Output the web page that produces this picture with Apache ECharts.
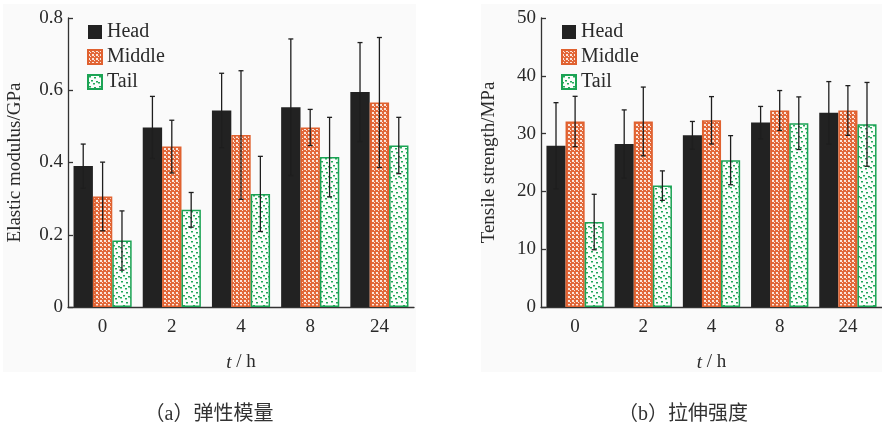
<!DOCTYPE html>
<html>
<head>
<meta charset="utf-8">
<script src="https://cdn.jsdelivr.net/npm/echarts@6/dist/echarts.min.js"></script>
<style>
html,body{margin:0;padding:0;background:#fff;}
#c{width:882px;height:430px;}
</style>
</head>
<body>
<div id="c"></div>
<script>
// ---- data ----
const categories = ['0', '2', '4', '8', '24'];
const seriesNames = ['Head', 'Middle', 'Tail'];

const modulusHead = [0.390, 0.497, 0.544, 0.553, 0.595];
const modulusMiddle = [0.306, 0.444, 0.476, 0.497, 0.566];
const modulusTail = [0.184, 0.269, 0.313, 0.415, 0.447];
const modulusHeadErr = [0.061, 0.086, 0.103, 0.189, 0.137];
const modulusMiddleErr = [0.095, 0.073, 0.178, 0.050, 0.180];
const modulusTailErr = [0.082, 0.048, 0.104, 0.110, 0.078];

const strengthHead = [27.9, 28.2, 29.7, 31.9, 33.6];
const strengthMiddle = [32.1, 32.1, 32.3, 34.0, 34.0];
const strengthTail = [14.7, 21.0, 25.4, 31.8, 31.6];
const strengthHeadErr = [7.45, 5.9, 2.4, 2.8, 5.4];
const strengthMiddleErr = [4.35, 5.95, 4.1, 3.45, 4.3];
const strengthTailErr = [4.8, 2.55, 4.25, 4.55, 7.25];

const yTicksModulus = [0, 0.2, 0.4, 0.6, 0.8];
const yTicksStrength = [0, 10, 20, 30, 40, 50];

const captionA = '（a）弹性模量';
const captionB = '（b）拉伸强度';
const yNameA = 'Elastic modulus/GPa';
const yNameB = 'Tensile strength/MPa';

// ---- patterns ----
function makeMiddlePattern() {
  const c = document.createElement('canvas');
  c.width = 4; c.height = 4;
  const g = c.getContext('2d');
  g.fillStyle = '#e2683a';
  g.fillRect(0, 0, 4, 4);
  g.fillStyle = '#fbe6dc';
  g.fillRect(0, 0, 2, 2);
  g.fillRect(2, 2, 1, 1);
  return c;
}
function makeTailPattern() {
  const c = document.createElement('canvas');
  c.width = 10; c.height = 10;
  const g = c.getContext('2d');
  g.fillStyle = '#fbfdfb';
  g.fillRect(0, 0, 10, 10);
  g.fillStyle = '#22a95a';
  const dots = [[1,1],[6,2],[3,5],[8,6],[5,8],[0,7]];
  dots.forEach(d => g.fillRect(d[0], d[1], 2, 1.5));
  return c;
}
const middleFill = { image: makeMiddlePattern(), repeat: 'repeat' };
const tailFill = { image: makeTailPattern(), repeat: 'repeat' };

const FONT = 'Liberation Serif';
const TXT = '#2a2a2a';
const CAT_GAP = 0.16;

function errRender(offset) {
  return function (params, api) {
    const x = api.value(0), v = api.value(1), e = api.value(2);
    const hi = api.coord([x, v + e]);
    const lo = api.coord([x, v - e]);
    const bw = api.size([1, 0])[0] * (1 - CAT_GAP) / 3;
    const cx = hi[0] + offset * bw;
    const cap = 2.5;
    const style = { stroke: '#1e1e1e', lineWidth: 1.3 };
    return {
      type: 'group',
      children: [
        { type: 'line', shape: { x1: cx, y1: hi[1], x2: cx, y2: lo[1] }, style },
        { type: 'line', shape: { x1: cx - cap, y1: hi[1], x2: cx + cap, y2: hi[1] }, style },
        { type: 'line', shape: { x1: cx - cap, y1: lo[1], x2: cx + cap, y2: lo[1] }, style }
      ]
    };
  };
}

function barSeries(name, data, idx, kind) {
  const styles = {
    Head: { color: '#222222', borderColor: '#222222', borderWidth: 0 },
    Middle: { color: middleFill, borderColor: '#e0612f', borderWidth: 1.5 },
    Tail: { color: tailFill, borderColor: '#1ba354', borderWidth: 1.5 }
  };
  return {
    name: name, type: 'bar', xAxisIndex: idx, yAxisIndex: idx,
    data: data, barGap: '0%', barCategoryGap: (CAT_GAP * 100) + '%',
    itemStyle: styles[kind], z: 2
  };
}
function errSeries(vals, errs, idx, offset) {
  return {
    type: 'custom', xAxisIndex: idx, yAxisIndex: idx, z: 5,
    renderItem: errRender(offset),
    data: vals.map((v, i) => [i, v, errs[i]]),
    silent: true, tooltip: { show: false }
  };
}

function xAxis(gi) {
  return {
    type: 'category', gridIndex: gi, data: categories,
    boundaryGap: true,
    axisLine: { lineStyle: { color: '#333', width: 1.3 } },
    axisTick: { show: false },
    axisLabel: { fontFamily: FONT, fontSize: 19, color: TXT, margin: 11 },
    name: '{i|t} / h', nameLocation: 'middle', nameGap: 46,
    nameTextStyle: {
      fontFamily: FONT, fontSize: 19, color: TXT,
      rich: { i: { fontFamily: FONT, fontSize: 19, fontStyle: 'italic', color: TXT } }
    }
  };
}
function yAxis(gi, ticks, name, gap) {
  return {
    type: 'value', gridIndex: gi,
    min: ticks[0], max: ticks[ticks.length - 1], interval: ticks[1] - ticks[0],
    axisLine: { show: true, lineStyle: { color: '#333', width: 1.3 } },
    axisTick: { show: true, inside: true, length: 5, lineStyle: { color: '#333', width: 1.3 } },
    splitLine: { show: false },
    axisLabel: { fontFamily: FONT, fontSize: 19, color: TXT, margin: 5 },
    name: name, nameLocation: 'middle', nameGap: gap, nameRotate: 90,
    nameTextStyle: { fontFamily: FONT, fontSize: 19, color: TXT }
  };
}
function legend(left) {
  return {
    left: left, top: 17, orient: 'vertical',
    itemWidth: 14, itemHeight: 14, itemGap: 5, icon: 'rect',
    data: seriesNames,
    textStyle: { fontFamily: FONT, fontSize: 20, color: TXT },
    selectedMode: false
  };
}

const chart = echarts.init(document.getElementById('c'), null, { renderer: 'canvas' });
chart.setOption({
  backgroundColor: '#ffffff',
  animation: false,
  graphic: [
    { type: 'rect', z: -10, shape: { x: 3, y: 4, width: 413, height: 368 }, style: { fill: '#fafafa' } },
    { type: 'rect', z: -10, shape: { x: 481, y: 4, width: 401, height: 368 }, style: { fill: '#fafafa' } },
    { type: 'text', x: 209, y: 415, style: { text: captionA, font: '20px "Liberation Serif", "Noto Sans CJK SC"', fill: '#333', align: 'center', verticalAlign: 'middle' } },
    { type: 'text', x: 683, y: 415, style: { text: captionB, font: '20px "Liberation Serif", "Noto Sans CJK SC"', fill: '#333', align: 'center', verticalAlign: 'middle' } }
  ],
  grid: [
    { left: 68, top: 18, width: 346, height: 289 },
    { left: 541, top: 18, width: 346, height: 289 }
  ],
  legend: [
    Object.assign(legend(82), { id: 'l0' }),
    Object.assign(legend(556), { id: 'l1' })
  ],
  xAxis: [xAxis(0), xAxis(1)],
  yAxis: [yAxis(0, yTicksModulus, yNameA, 43), yAxis(1, yTicksStrength, yNameB, 42)],
  series: [
    barSeries('Head', modulusHead, 0, 'Head'),
    barSeries('Middle', modulusMiddle, 0, 'Middle'),
    barSeries('Tail', modulusTail, 0, 'Tail'),
    barSeries('Head', strengthHead, 1, 'Head'),
    barSeries('Middle', strengthMiddle, 1, 'Middle'),
    barSeries('Tail', strengthTail, 1, 'Tail'),
    errSeries(modulusHead, modulusHeadErr, 0, -1),
    errSeries(modulusMiddle, modulusMiddleErr, 0, 0),
    errSeries(modulusTail, modulusTailErr, 0, 1),
    errSeries(strengthHead, strengthHeadErr, 1, -1),
    errSeries(strengthMiddle, strengthMiddleErr, 1, 0),
    errSeries(strengthTail, strengthTailErr, 1, 1)
  ]
});
</script>
</body>
</html>
